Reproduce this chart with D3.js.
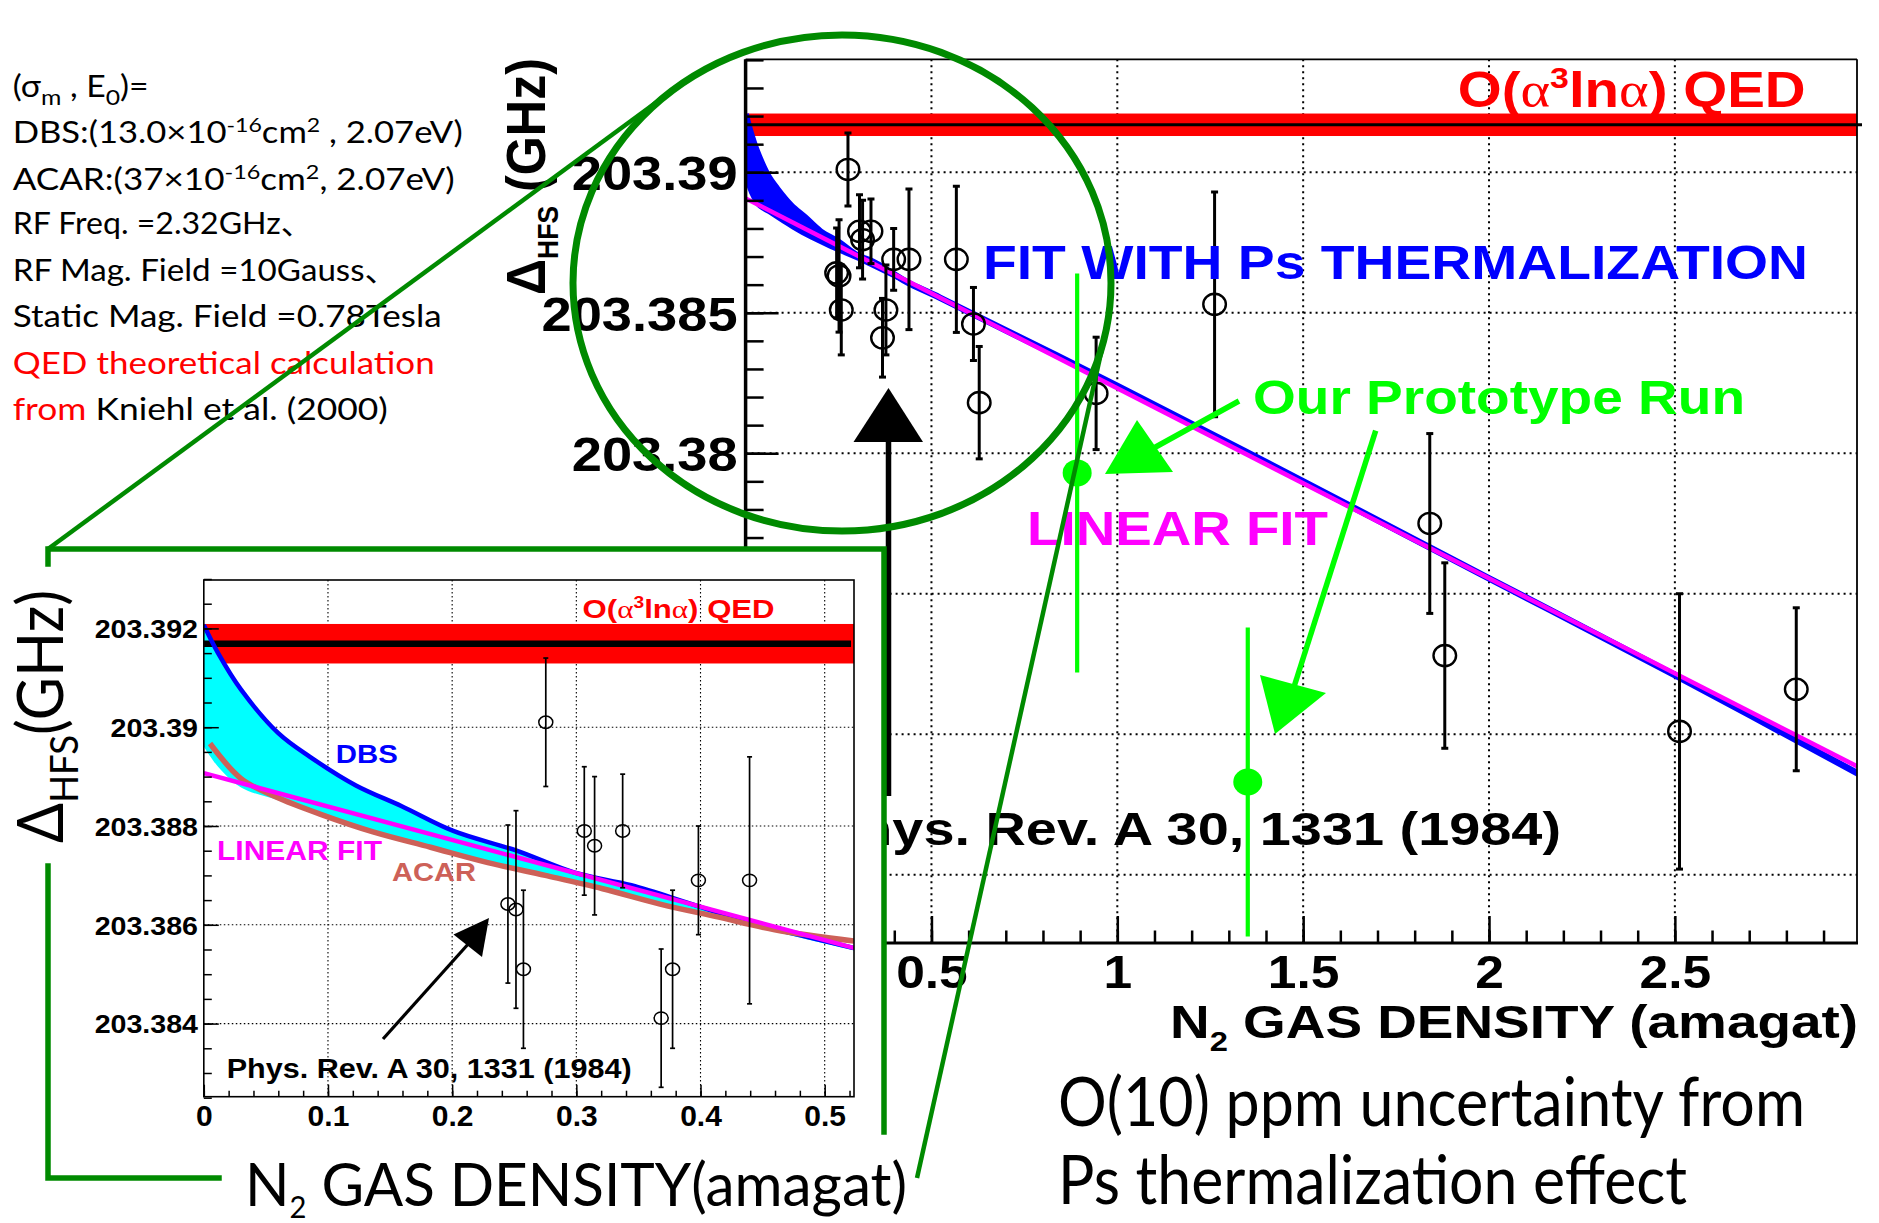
<!DOCTYPE html>
<html><head><meta charset="utf-8">
<script src="https://cdn.jsdelivr.net/npm/d3@7"></script>
<style>body{margin:0;background:#fff}svg{display:block}</style>
</head><body>
<svg id="c" width="1879" height="1223"></svg>
<script>
// ---------------- DATA ----------------
// Phys. Rev. A 30, 1331 (1984) measurements
const refDensity = [0.2449,0.2514,0.2574,0.2754,0.3064,0.3147,0.3373,0.3683,0.3775,0.3983,0.4395,0.567,0.613,0.6285,0.943,1.2617,1.8406,1.881,2.5125,2.8266];
const refValue   = [203.38642,203.38631,203.3851,203.3901,203.3879,203.3876,203.3879,203.38411,203.3851,203.3869,203.3869,203.3869,203.3846,203.3818,203.38213,203.3853,203.3775,203.3728,203.3701,203.3716];
const refError   = [0.0016,0.0020,0.0016,0.0013,0.0013,0.0014,0.00115,0.0014,0.0016,0.0011,0.0025,0.0026,0.0013,0.0020,0.0020,0.0040,0.0032,0.0033,0.0049,0.0029];
// Our prototype run
const protoDensity = [0.892, 1.351];
const protoValue   = [203.3793, 203.3683];
const protoError   = [0.0071, 0.0055];
// QED theory band
const qedValue = 203.39169, qedError = 0.0004;
// linear fit
const linX = [0, 3.0];
const linY = [203.38907, 203.36879];
// fit with Ps thermalization (DBS)
const dbsX = [0,0.0115,0.03,0.06,0.0855,0.1225,0.1594,0.2009,0.2519,0.2981,0.3443,0.3905,0.4367,0.5236,1.0,1.5,2.0,2.5,3.0];
const dbsY = [203.39207,203.3915,203.39076,203.38988,203.3894,203.38882,203.3884,203.3879,203.3875,203.38706,203.3868,203.38644,203.38607,203.38553,203.3824,203.3790,203.37555,203.3721,203.36855];
// ACAR curve
const acarX = [0.005,0.03,0.0578,0.0947,0.1363,0.1826,0.2287,0.275,0.3212,0.3674,0.4137,0.4598,0.5236];
const acarY = [203.38967,203.38896,203.38859,203.38823,203.38788,203.38757,203.38726,203.387,203.38673,203.38642,203.38616,203.3859,203.38567];
// lower edge of thermalization band
const bandLowX = [0,0.0115,0.03,0.06,0.1,0.15,0.2,0.25,0.3,0.35,0.4,0.45,0.5236];
const bandLowY = [203.38961,203.3892,203.38878,203.38852,203.38818,203.38778,203.38745,203.38714,203.38686,203.38654,203.38622,203.38592,203.38548];
// ticks
const mainXTicks = [0.5,1,1.5,2,2.5];
const mainYTicks = [203.365,203.37,203.375,203.38,203.385,203.39];
const mainYTickLabels = ["203.365","203.37","203.375","203.38","203.385","203.39"];
const insetXTicks = [0,0.1,0.2,0.3,0.4,0.5];
const insetXTickLabels = ["0","0.1","0.2","0.3","0.4","0.5"];
const insetYTicks = [203.384,203.386,203.388,203.39,203.392];
const insetYTickLabels = ["203.384","203.386","203.388","203.39","203.392"];

// ---------------- HELPERS ----------------
const svg = d3.select("#c");
const ROOTF = "'Liberation Sans', Arial, sans-serif";
const SLIDEF = "Lato, 'Open Sans', 'Noto Sans CJK JP', sans-serif";
const CURVE = d3.curveCatmullRom.alpha(0.5);
function fitW(sel, w){ sel.attr("textLength", w).attr("lengthAdjust","spacingAndGlyphs"); return sel; }
function stretch(sel, f){ sel.each(function(){ const L=this.getComputedTextLength(); d3.select(this).attr("textLength",L*f).attr("lengthAdjust","spacingAndGlyphs"); }); }
function rich(parent, x, y, parts, o){
  const t = parent.append("text").attr("x",x).attr("y",y)
    .attr("font-family",o.ff||ROOTF).attr("font-size",o.fs).attr("font-weight",o.fw||"normal")
    .attr("fill",o.fill||"#000");
  if(o.anchor) t.attr("text-anchor",o.anchor);
  if(o.transform) t.attr("transform",o.transform);
  parts.forEach(p=>{ const s=t.append("tspan").text(p.t);
    if(p.dy) s.attr("dy",p.dy); if(p.fs) s.attr("font-size",p.fs); if(p.fill) s.attr("fill",p.fill);
    if(p.ff) s.attr("font-family",p.ff); if(p.fw) s.attr("font-weight",p.fw); });
  if(o.w) fitW(t,o.w);
  return t;
}
const pts = (xs,ys)=>xs.map((x,i)=>[x,ys[i]]);
const defs = svg.append("defs");

// ================= MAIN CHART =================
const M = {x0:745.6, x1:1857, y0:59.3, y1:943};
const xM = d3.scaleLinear().domain([0,2.99]).range([M.x0,M.x1]);
const yM = d3.scaleLinear().domain([203.36257,203.39402]).range([M.y1,M.y0]);
const lineM = d3.line().x(d=>xM(d[0])).y(d=>yM(d[1]));
const curveM = d3.line().x(d=>xM(d[0])).y(d=>yM(d[1])).curve(CURVE);
defs.append("clipPath").attr("id","clipM").append("rect").attr("x",M.x0).attr("y",M.y0).attr("width",M.x1-M.x0).attr("height",M.y1-M.y0);
const gM = svg.append("g");

// grid
gM.append("g").selectAll("line").data(mainXTicks).join("line")
  .attr("x1",d=>xM(d)).attr("x2",d=>xM(d)).attr("y1",M.y0).attr("y2",M.y1)
  .attr("stroke","#000").attr("stroke-width",2).attr("stroke-dasharray","2,4");
gM.append("g").selectAll("line").data(mainYTicks).join("line")
  .attr("y1",d=>yM(d)).attr("y2",d=>yM(d)).attr("x1",M.x0).attr("x2",M.x1)
  .attr("stroke","#000").attr("stroke-width",2).attr("stroke-dasharray","2,4");

const gMc = gM.append("g").attr("clip-path","url(#clipM)");
gMc.append("rect").attr("x",M.x0).attr("width",M.x1-M.x0)
  .attr("y",yM(qedValue+qedError)).attr("height",yM(qedValue-qedError)-yM(qedValue+qedError)).attr("fill","#ff0000");
const upperM = pts(dbsX,dbsY).filter(p=>p[0]<=0.5237);
const lowerM = pts(bandLowX,bandLowY).reverse();
gMc.append("path").attr("d",curveM(upperM)+"L"+curveM(lowerM).slice(1)+"Z").attr("fill","#0000ff");
gMc.append("path").attr("d",curveM(pts(dbsX,dbsY))).attr("fill","none").attr("stroke","#0000ff").attr("stroke-width",6.5);
gMc.append("path").attr("d",lineM(pts(linX,linY))).attr("fill","none").attr("stroke","#ff00ff").attr("stroke-width",4.5);
gM.append("line").attr("x1",M.x0).attr("x2",1862).attr("y1",yM(qedValue)).attr("y2",yM(qedValue)).attr("stroke","#000").attr("stroke-width",3);

// data points main
const refData = refDensity.map((d,i)=>({x:d,y:refValue[i],e:refError[i]}));
const gPts = gM.append("g").attr("clip-path","url(#clipM)");
gPts.selectAll("line.eb").data(refData).join("line").attr("class","eb")
  .attr("x1",d=>xM(d.x)).attr("x2",d=>xM(d.x)).attr("y1",d=>yM(d.y+d.e)).attr("y2",d=>yM(d.y-d.e))
  .attr("stroke","#000").attr("stroke-width",3);
["t","b"].forEach(k=>{
  gPts.selectAll("line.c"+k).data(refData).join("line").attr("class","c"+k)
    .attr("x1",d=>xM(d.x)-3.5).attr("x2",d=>xM(d.x)+3.5)
    .attr("y1",d=>yM(k==="t"?d.y+d.e:d.y-d.e)).attr("y2",d=>yM(k==="t"?d.y+d.e:d.y-d.e))
    .attr("stroke","#000").attr("stroke-width",3);
});
gPts.selectAll("ellipse").data(refData).join("ellipse")
  .attr("cx",d=>xM(d.x)).attr("cy",d=>yM(d.y)).attr("rx",11.3).attr("ry",10.6)
  .attr("fill","none").attr("stroke","#000").attr("stroke-width",2.4);

// frame
gM.append("line").attr("x1",M.x0).attr("x2",M.x1).attr("y1",M.y0).attr("y2",M.y0).attr("stroke","#000").attr("stroke-width",1.8);
gM.append("line").attr("x1",M.x1).attr("x2",M.x1).attr("y1",M.y0).attr("y2",M.y1).attr("stroke","#000").attr("stroke-width",1.8);
gM.append("line").attr("x1",M.x0).attr("x2",M.x0).attr("y1",M.y0).attr("y2",M.y1).attr("stroke","#000").attr("stroke-width",3.5);
gM.append("line").attr("x1",M.x0).attr("x2",M.x1+1).attr("y1",M.y1).attr("y2",M.y1).attr("stroke","#000").attr("stroke-width",3);

// ticks (axes)
const mainXMinor = d3.range(0,30).map(i=>+(i*0.1).toFixed(1));
const mainYMinor = d3.range(0,32).map(i=>+(203.363+i*0.001).toFixed(3));
function tickAxis(g, axis){ g.call(axis); g.select(".domain").remove(); g.selectAll("line").attr("stroke","#000").attr("stroke-width",2.5); }
tickAxis(gM.append("g").attr("transform",`translate(0,${M.y1})`), d3.axisTop(xM).tickValues(mainXMinor).tickSize(12.5).tickFormat(""));
tickAxis(gM.append("g").attr("transform",`translate(0,${M.y1})`), d3.axisTop(xM).tickValues([0].concat(mainXTicks)).tickSize(27).tickFormat(""));
tickAxis(gM.append("g").attr("transform",`translate(${M.x0},0)`), d3.axisRight(yM).tickValues(mainYMinor).tickSize(18).tickFormat(""));
tickAxis(gM.append("g").attr("transform",`translate(${M.x0},0)`), d3.axisRight(yM).tickValues(mainYTicks).tickSize(33).tickFormat(""));

// tick labels
const gxl = gM.append("g").attr("transform",`translate(0,${M.y1})`)
  .call(d3.axisBottom(xM).tickValues(mainXTicks).tickSize(0).tickFormat(d=>d3.format("")(d)));
gxl.select(".domain").remove();
gxl.selectAll("text").attr("y",45).attr("dy",null).attr("font-family",ROOTF).attr("font-size",46).attr("font-weight","bold").attr("fill","#000");
stretch(gxl.selectAll("text"),1.12);
const gyl = gM.append("g").attr("transform",`translate(${M.x0-8},0)`)
  .call(d3.axisLeft(yM).tickValues(mainYTicks).tickSize(0).tickFormat((d,i)=>mainYTickLabels[i]));
gyl.select(".domain").remove();
gyl.selectAll("text").attr("x",0).attr("dy","0.36em").attr("font-family",ROOTF).attr("font-size",48).attr("font-weight","bold").attr("fill","#000");
stretch(gyl.selectAll("text"),1.13);

// axis titles
rich(gM, 1170, 1038, [{t:"N"},{t:"2",fs:28,dy:13},{t:" GAS DENSITY (amagat)",dy:-13}], {fs:47,fw:"bold",w:688});
rich(gM, 0, 0, [{t:"Δ"},{t:"HFS",fs:29,dy:13},{t:" (GHz)",dy:-13}], {fs:55,fw:"bold",w:237,transform:"translate(545,295) rotate(-90)"});

// in-plot labels
rich(gM, 1457.7, 106.7, [{t:"O("},{t:"α",ff:"'Liberation Serif', serif",fw:"normal"},{t:"3",fs:30,dy:-19},{t:"ln",dy:19},{t:"α",ff:"'Liberation Serif', serif",fw:"normal"},{t:") QED"}], {fs:50,fw:"bold",fill:"#ff0000",w:348});
rich(gM, 983, 279.3, [{t:"FIT WITH Ps THERMALIZATION"}], {fs:48,fw:"bold",fill:"#0000ff",w:825});
rich(gM, 1027, 544.6, [{t:"LINEAR FIT"}], {fs:48,fw:"bold",fill:"#ff00ff",w:301});
rich(gM, 821, 844.6, [{t:"Phys. Rev. A 30, 1331 (1984)"}], {fs:47,fw:"bold",w:740});

// ================= COVER + INSET =================
svg.append("rect").attr("x",0).attr("y",548).attr("width",885).attr("height",1223-548).attr("fill","#fff");

// black arrow of main chart
svg.append("line").attr("x1",888.5).attr("x2",888.5).attr("y1",796).attr("y2",438).attr("stroke","#000").attr("stroke-width",5.5);
svg.append("polygon").attr("points","888.5,388 853.5,442 923,442").attr("fill","#000");

const I = {x0:203.8, x1:854, y0:580, y1:1096.7};
const xI = d3.scaleLinear().domain([0,0.5236]).range([I.x0,I.x1]);
const yI = d3.scaleLinear().domain([203.38252,203.39298]).range([I.y1,I.y0]);
const lineI = d3.line().x(d=>xI(d[0])).y(d=>yI(d[1]));
const curveI = d3.line().x(d=>xI(d[0])).y(d=>yI(d[1])).curve(CURVE);
defs.append("clipPath").attr("id","clipI").append("rect").attr("x",I.x0).attr("y",I.y0).attr("width",I.x1-I.x0).attr("height",I.y1-I.y0);
const gI = svg.append("g");
gI.append("g").selectAll("line").data(insetXTicks.slice(1)).join("line")
  .attr("x1",d=>xI(d)).attr("x2",d=>xI(d)).attr("y1",I.y0).attr("y2",I.y1)
  .attr("stroke","#000").attr("stroke-width",1.1).attr("stroke-dasharray","1.5,2.5");
gI.append("g").selectAll("line").data(insetYTicks).join("line")
  .attr("y1",d=>yI(d)).attr("y2",d=>yI(d)).attr("x1",I.x0).attr("x2",I.x1)
  .attr("stroke","#000").attr("stroke-width",1.1).attr("stroke-dasharray","1.5,2.5");
const gIc = gI.append("g").attr("clip-path","url(#clipI)");
gIc.append("rect").attr("x",I.x0).attr("width",I.x1-I.x0)
  .attr("y",yI(qedValue+qedError)).attr("height",yI(qedValue-qedError)-yI(qedValue+qedError)).attr("fill","#ff0000");
const upperI = pts(dbsX,dbsY).filter(p=>p[0]<=0.5237);
gIc.append("path").attr("d",curveI(upperI)+"L"+curveI(pts(bandLowX,bandLowY).reverse()).slice(1)+"Z").attr("fill","#00ffff");
gIc.append("line").attr("x1",I.x0).attr("x2",I.x1-3).attr("y1",yI(qedValue)).attr("y2",yI(qedValue)).attr("stroke","#000").attr("stroke-width",6.5);
gIc.append("path").attr("d",curveI(upperI)).attr("fill","none").attr("stroke","#0000ff").attr("stroke-width",4.5);
gIc.append("path").attr("d",curveI(pts(acarX,acarY))).attr("fill","none").attr("stroke","#cd6158").attr("stroke-width",5.5);
gIc.append("path").attr("d",lineI(pts(linX,linY))).attr("fill","none").attr("stroke","#ff00ff").attr("stroke-width",4.5);

const inData = refData.filter(d=>d.x<=0.5236);
gI.selectAll("line.eb").data(inData).join("line").attr("class","eb")
  .attr("x1",d=>xI(d.x)).attr("x2",d=>xI(d.x)).attr("y1",d=>yI(d.y+d.e)).attr("y2",d=>yI(d.y-d.e))
  .attr("stroke","#000").attr("stroke-width",1.7);
["t","b"].forEach(k=>{
  gI.selectAll("line.c"+k).data(inData).join("line").attr("class","c"+k)
    .attr("x1",d=>xI(d.x)-2.5).attr("x2",d=>xI(d.x)+2.5)
    .attr("y1",d=>yI(k==="t"?d.y+d.e:d.y-d.e)).attr("y2",d=>yI(k==="t"?d.y+d.e:d.y-d.e))
    .attr("stroke","#000").attr("stroke-width",1.7);
});
gI.selectAll("ellipse").data(inData).join("ellipse")
  .attr("cx",d=>xI(d.x)).attr("cy",d=>yI(d.y)).attr("rx",7).attr("ry",6.2)
  .attr("fill","none").attr("stroke","#000").attr("stroke-width",1.5);

gI.append("rect").attr("x",I.x0).attr("y",I.y0).attr("width",I.x1-I.x0).attr("height",I.y1-I.y0)
  .attr("fill","none").attr("stroke","#000").attr("stroke-width",1.6);
const inXMinor = d3.range(0,27).map(i=>+(i*0.02).toFixed(2));
const inYMinor = d3.range(0,22).map(i=>+(203.3825+i*0.0005).toFixed(4));
function tickAxisI(g, axis){ g.call(axis); g.select(".domain").remove(); g.selectAll("line").attr("stroke","#000").attr("stroke-width",1.5); }
tickAxisI(gI.append("g").attr("transform",`translate(0,${I.y1})`), d3.axisTop(xI).tickValues(inXMinor).tickSize(6));
tickAxisI(gI.append("g").attr("transform",`translate(0,${I.y1})`), d3.axisTop(xI).tickValues(insetXTicks).tickSize(12).tickFormat(""));
tickAxisI(gI.append("g").attr("transform",`translate(${I.x0},0)`), d3.axisRight(yI).tickValues(inYMinor).tickSize(8).tickFormat(""));
tickAxisI(gI.append("g").attr("transform",`translate(${I.x0},0)`), d3.axisRight(yI).tickValues(insetYTicks).tickSize(15).tickFormat(""));
gI.selectAll("g.tick text").remove();

const gixl = gI.append("g").attr("transform",`translate(0,${I.y1})`)
  .call(d3.axisBottom(xI).tickValues(insetXTicks).tickSize(0).tickFormat((d,i)=>insetXTickLabels[i]));
gixl.select(".domain").remove();
gixl.selectAll("text").attr("y",29).attr("dy",null).attr("font-family",ROOTF).attr("font-size",30).attr("font-weight","bold").attr("fill","#000");
const giyl = gI.append("g").attr("transform",`translate(198,0)`)
  .call(d3.axisLeft(yI).tickValues(insetYTicks).tickSize(0).tickFormat((d,i)=>insetYTickLabels[i]));
giyl.select(".domain").remove();
giyl.selectAll("text").attr("x",0).attr("dy","0.36em").attr("font-family",ROOTF).attr("font-size",26).attr("font-weight","bold").attr("fill","#000");
stretch(giyl.selectAll("text"),1.1);

rich(gI, 582.6, 617.5, [{t:"O("},{t:"α",ff:"'Liberation Serif', serif",fw:"normal"},{t:"3",fs:16,dy:-10},{t:"ln",dy:10},{t:"α",ff:"'Liberation Serif', serif",fw:"normal"},{t:") QED"}], {fs:26,fw:"bold",fill:"#ff0000",w:192});
rich(gI, 335.8, 763, [{t:"DBS"}], {fs:25,fw:"bold",fill:"#0000ff",w:62});
rich(gI, 217, 860, [{t:"LINEAR FIT"}], {fs:27,fw:"bold",fill:"#ff00ff",w:165});
rich(gI, 392, 880.6, [{t:"ACAR"}], {fs:25,fw:"bold",fill:"#cd6158",w:84});
rich(gI, 226.7, 1078, [{t:"Phys. Rev. A 30, 1331 (1984)"}], {fs:27.5,fw:"bold",w:405});
// inset arrow
gI.append("line").attr("x1",383).attr("y1",1039).attr("x2",470).attr("y2",942).attr("stroke","#000").attr("stroke-width",3.2);
gI.append("polygon").attr("points","489,918 453.5,934.5 482,957").attr("fill","#000");

// ================= PROTOTYPE RUN (bright green) =================
const G = "#00ff00";
const protoData = protoDensity.map((d,i)=>({x:d,y:protoValue[i],e:protoError[i]}));
const gP = svg.append("g");
gP.selectAll("line").data(protoData).join("line")
  .attr("x1",d=>xM(d.x)).attr("x2",d=>xM(d.x)).attr("y1",d=>yM(d.y+d.e)).attr("y2",d=>yM(d.y-d.e))
  .attr("stroke",G).attr("stroke-width",4.2);
gP.selectAll("ellipse").data(protoData).join("ellipse")
  .attr("cx",d=>xM(d.x)).attr("cy",d=>yM(d.y)).attr("rx",14.5).attr("ry",13.5).attr("fill",G);
rich(gP, 1253, 414, [{t:"Our Prototype Run"}], {fs:48,fw:"bold",fill:G,w:492});
gP.append("line").attr("x1",1239).attr("y1",401).attr("x2",1152).attr("y2",449).attr("stroke",G).attr("stroke-width",5.5);
gP.append("polygon").attr("points","1105,474 1173,472 1137,420").attr("fill",G);
gP.append("line").attr("x1",1375.7).attr("y1",430.7).attr("x2",1293).attr("y2",690).attr("stroke",G).attr("stroke-width",5.5);
gP.append("polygon").attr("points","1260,675 1326,693 1275,734").attr("fill",G);

// ================= ZOOM DECORATION (dark green) =================
const DG = "#008a00";
const ell = {cx:842, cy:283, rx:269, ry:248};
function tangent(px,py,side){
  const u=(px-ell.cx)/ell.rx, v=(py-ell.cy)/ell.ry;
  const r=Math.hypot(u,v), a=Math.atan2(v,u), d=Math.acos(1/r), t=a+side*d;
  return [ell.cx+ell.rx*Math.cos(t), ell.cy+ell.ry*Math.sin(t)];
}
const gD = svg.append("g").attr("stroke",DG).attr("fill","none").attr("stroke-linecap","square");
gD.append("ellipse").attr("cx",ell.cx).attr("cy",ell.cy).attr("rx",ell.rx).attr("ry",ell.ry).attr("stroke-width",7);
const t1 = tangent(48,549,1), t2 = tangent(917,1178,-1);
gD.append("line").attr("x1",917).attr("y1",1178).attr("x2",t2[0]).attr("y2",t2[1]).attr("stroke-width",4.5).attr("stroke-linecap","butt");
const rw = 5.5;
gD.append("polyline").attr("points","48,564 48,549 884,549 884,1132").attr("stroke-width",rw);
gD.append("polyline").attr("points","48,866 48,1178 219,1178").attr("stroke-width",rw);

// ================= SLIDE TEXT =================
const gT = svg.append("g");
rich(gT, 0, 0, [{t:"Δ"},{t:"HFS",fs:39,dy:15},{t:"(GHz)",dy:-15}], {ff:SLIDEF,fs:63,w:253,transform:"translate(63,843) rotate(-90)"});
rich(gT, 245, 1206, [{t:"N"},{t:"2",fs:30,dy:12},{t:" GAS DENSITY(amagat)",dy:-12}], {ff:SLIDEF,fs:60,w:662});
rich(gT, 1058, 1126, [{t:"O(10) ppm uncertainty from"}], {ff:SLIDEF,fs:67,w:747});
rich(gT, 1058, 1204, [{t:"Ps thermalization effect"}], {ff:SLIDEF,fs:67,w:629});

const lf = {ff:SLIDEF, fs:30};
rich(gT, 12.7, 97, [{t:"(σ"},{t:"m",fs:22,dy:8},{t:" , E",dy:-8},{t:"0",fs:22,dy:8},{t:")=",dy:-8}], Object.assign({w:136},lf));
rich(gT, 12.7, 143, [{t:"DBS:(13.0×10"},{t:"-16",fs:20,dy:-11},{t:"cm",dy:11},{t:"2",fs:20,dy:-11},{t:" , 2.07eV)",dy:11}], Object.assign({w:450},lf));
rich(gT, 12.7, 189.5, [{t:"ACAR:(37×10"},{t:"-16",fs:20,dy:-11},{t:"cm",dy:11},{t:"2",fs:20,dy:-11},{t:", 2.07eV)",dy:11}], Object.assign({w:442},lf));
rich(gT, 12.7, 234, [{t:"RF Freq. =2.32GHz、"}], Object.assign({w:300},lf));
rich(gT, 12.7, 280.5, [{t:"RF Mag. Field =10Gauss、"}], Object.assign({w:385},lf));
rich(gT, 12.7, 327, [{t:"Static Mag. Field =0.78Tesla"}], Object.assign({w:429},lf));
rich(gT, 12.7, 373.5, [{t:"QED theoretical calculation"}], Object.assign({w:422,fill:"#ff0000"},lf));
rich(gT, 12.7, 420, [{t:"from",fill:"#ff0000"},{t:" Kniehl et al. (2000)"}], Object.assign({w:375},lf));

// connector line over the text block (it lies on top in the reference)
svg.append("line").attr("x1",48).attr("y1",549).attr("x2",t1[0]).attr("y2",t1[1]).attr("stroke",DG).attr("stroke-width",4.5);
</script>
</body></html>
